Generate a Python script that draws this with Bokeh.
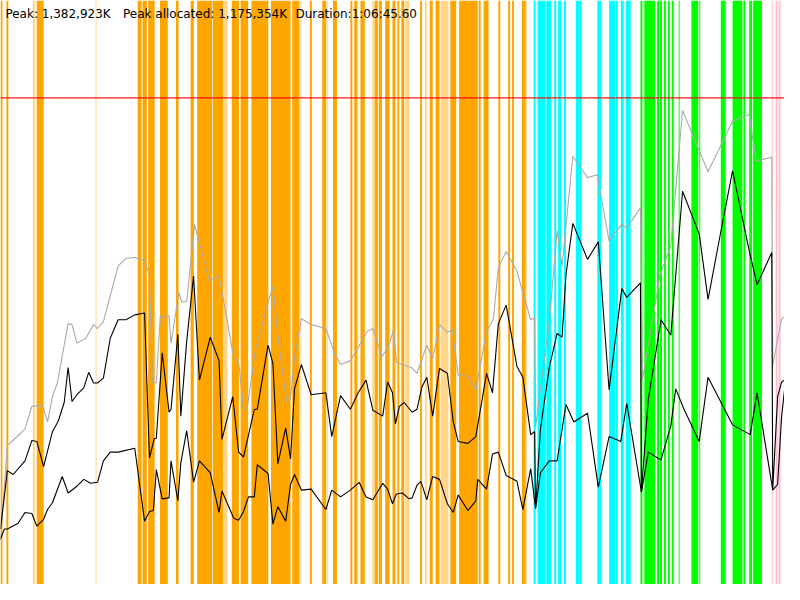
from bokeh.plotting import figure
from bokeh.models import ColumnDataSource, Range1d, Label, Span
from bokeh.embed import file_html
from bokeh.resources import INLINE

# ---------------- data ----------------
header_texts = ["Peak: 1,382,923K", "Peak allocated: 1,175,354K", "Duration:1:06:45.60"]
header_x = [5, 125, 301]

limit_level = 500

# phase bands (start, end) along the time axis
orange_bands = [(0, 2), (6, 8), (37, 44), (140, 144), (145, 149.3), (150.7, 157.3),
                (162.7, 170.7), (179, 181.7), (194, 197.3), (200.7, 216), (216.7, 227.3),
                (236, 243.3), (245, 252.7), (256, 273.3), (276, 296), (297.7, 305),
                (315.7, 317.7), (328.3, 332.3), (339.3, 343.3), (357, 359), (361, 364.3),
                (367.3, 371.7), (381.7, 385), (386, 389.3), (392.5, 397), (400, 403),
                (405, 407), (409, 412), (428, 430), (438, 441), (444, 448), (459, 465),
                (468, 487), (488, 490), (493, 498), (508, 510), (518, 520), (522, 524),
                (532, 536)]
orange_light_bands = [(33, 35), (97, 98), (227.3, 231.7), (306, 307), (332.7, 334),
                      (379.3, 381.7), (413, 417), (433, 435), (449, 457), (536, 537)]
cyan_bands = [(544, 546), (548, 556), (557, 562), (565, 567), (569, 572), (575, 577),
              (587, 593), (609, 613), (621, 627), (628, 630), (633, 636), (638, 643)]
green_bands = [(653, 655), (657, 668), (670, 672), (673, 675), (677, 679), (681, 683),
               (685, 687), (692, 693), (705, 712), (713, 714), (735, 740), (747, 757),
               (758, 760), (764, 767), (768, 777)]
pink_bands = [(787, 788), (791, 793), (794, 796)]

band_colors = {"orange": "#FFA500", "orange_light": "#FFD68C", "cyan": "#00FFFF",
               "green": "#00FF00", "pink": "#FFC0CB"}

# memory series
total_t = [0, 7, 15, 25, 32, 43, 48, 53, 58, 69, 73, 78, 87, 95, 99, 105, 120, 128, 137, 147,
           152, 155, 159, 163, 172, 174, 182, 185, 190, 198, 213, 223, 238, 243, 248, 252, 260,
           273, 278, 284, 292, 296, 300, 307, 317, 332, 340, 347, 357, 363, 374, 380, 389, 395,
           401, 404, 410, 419, 425, 435, 441, 448, 456, 461, 467, 477, 485, 496, 503, 508, 516,
           527, 533, 541, 545, 546, 560, 568, 573, 584, 599, 609, 621, 634, 639, 653, 655, 673,
           684, 696, 722, 747, 764, 771, 787, 788, 797, 800]
total_v = [45, 143, 150, 160, 183, 184, 167, 193, 207, 268, 267, 248, 253, 267, 263, 270, 327,
           335, 336, 333, 317, 208, 207, 275, 276, 248, 300, 290, 291, 370, 312, 317, 233, 229,
           180, 183, 240, 290, 306, 247, 188, 192, 233, 273, 267, 263, 240, 226, 230, 240, 260,
           263, 234, 243, 261, 228, 226, 223, 217, 246, 232, 267, 259, 262, 215, 214, 200, 260,
           273, 326, 342, 322, 300, 272, 274, 162, 270, 364, 327, 440, 418, 421, 353, 370, 366,
           387, 210, 318, 348, 487, 424, 476, 483, 435, 439, 225, 273, 275]

alloc_t = [0, 7, 13, 25, 32, 37, 44, 53, 59, 65, 69, 73, 78, 85, 90, 95, 99, 105, 112, 120, 128,
           137, 147, 152, 157, 159, 165, 172, 174, 181, 184, 190, 197, 203, 214, 223, 226, 237,
           243, 248, 259, 262, 273, 278, 283, 291, 296, 300, 307, 317, 332, 338, 347, 357, 365,
           373, 380, 390, 395, 400, 403, 407, 412, 420, 425, 430, 435, 441, 448, 456, 462, 467,
           477, 485, 496, 502, 508, 516, 527, 533, 541, 545, 546, 551, 560, 568, 573, 577, 584,
           599, 610, 621, 634, 639, 653, 654, 661, 674, 684, 696, 713, 722, 734, 747, 764, 772,
           787, 788, 793, 797, 800]
alloc_v = [57, 117, 113, 127, 148, 147, 121, 157, 168, 187, 223, 188, 195, 202, 218, 207, 207,
           212, 253, 272, 272, 277, 279, 130, 150, 150, 238, 177, 180, 257, 173, 250, 317, 210,
           254, 230, 149, 193, 136, 131, 180, 180, 246, 227, 124, 161, 129, 201, 226, 195, 197,
           152, 194, 180, 197, 210, 179, 173, 208, 197, 165, 183, 187, 177, 180, 203, 213, 173,
           222, 217, 167, 147, 145, 152, 217, 197, 268, 287, 224, 213, 154, 157, 78, 160, 223,
           258, 254, 318, 371, 334, 352, 200, 304, 295, 310, 95, 190, 272, 256, 404, 360, 293,
           357, 425, 343, 308, 341, 97, 193, 208, 210]

live_t = [0, 4, 7, 18, 25, 32, 37, 44, 48, 53, 63, 69, 78, 85, 92, 99, 105, 112, 120, 137, 147,
          152, 156, 159, 165, 172, 174, 181, 184, 190, 197, 203, 214, 223, 226, 238, 243, 248,
          253, 259, 262, 273, 278, 283, 291, 296, 300, 307, 317, 332, 338, 347, 357, 366, 373,
          380, 390, 395, 400, 404, 410, 417, 420, 425, 429, 435, 441, 448, 456, 462, 467, 477,
          485, 487, 496, 502, 508, 516, 527, 533, 541, 546, 551, 560, 568, 577, 585, 599, 610,
          621, 633, 639, 654, 661, 674, 684, 689, 697, 713, 722, 747, 765, 772, 788, 793, 797,
          800]
live_v = [47, 57, 57, 63, 74, 73, 60, 67, 77, 84, 111, 94, 101, 108, 104, 105, 127, 136, 136,
          140, 65, 75, 76, 118, 88, 89, 127, 86, 125, 158, 105, 127, 115, 74, 96, 68, 66, 75, 90,
          90, 123, 114, 62, 80, 65, 103, 113, 97, 98, 77, 97, 90, 97, 105, 90, 87, 104, 98, 83,
          93, 94, 88, 89, 102, 106, 87, 111, 108, 83, 74, 92, 76, 86, 108, 98, 134, 136, 112,
          106, 77, 119, 78, 115, 127, 127, 185, 167, 176, 100, 152, 147, 186, 95, 136, 128, 163,
          201, 181, 147, 213, 164, 154, 197, 97, 103, 172, 200]

# ---------------- chart ----------------
W, H = 784, 584
p = figure(width=W, height=H, output_backend="svg", toolbar_location=None,
           x_range=Range1d(0, 800), y_range=Range1d(0, 600), min_border=0,
           background_fill_color="white", border_fill_color="white")
p.outline_line_color = None
p.axis.visible = False
p.grid.visible = False

lefts, rights, colors = [], [], []
for name, bands in [("orange", orange_bands), ("orange_light", orange_light_bands),
                    ("cyan", cyan_bands), ("green", green_bands), ("pink", pink_bands)]:
    for a, b in bands:
        lefts.append(a)
        rights.append(b)
        colors.append(band_colors[name])
band_src = ColumnDataSource(dict(left=lefts, right=rights, color=colors))
p.quad(left="left", right="right", bottom=0, top=600, source=band_src,
       fill_color="color", line_color=None)

p.line(total_t, total_v, line_color="#AAAAAA", line_width=1.1)
p.line(alloc_t, alloc_v, line_color="black", line_width=1.1)
p.line(live_t, live_v, line_color="black", line_width=1.1)

p.add_layout(Span(location=limit_level, dimension="width", line_color="red",
                  line_alpha=0.65, line_width=1.6))

for txt, tx in zip(header_texts, header_x):
    p.add_layout(Label(x=tx, y=593, text=txt, text_font="DejaVu Sans",
                       text_font_size="12px", text_color="black",
                       text_baseline="top", text_align="left"))

open("out.html", "w").write(file_html(p, INLINE))
